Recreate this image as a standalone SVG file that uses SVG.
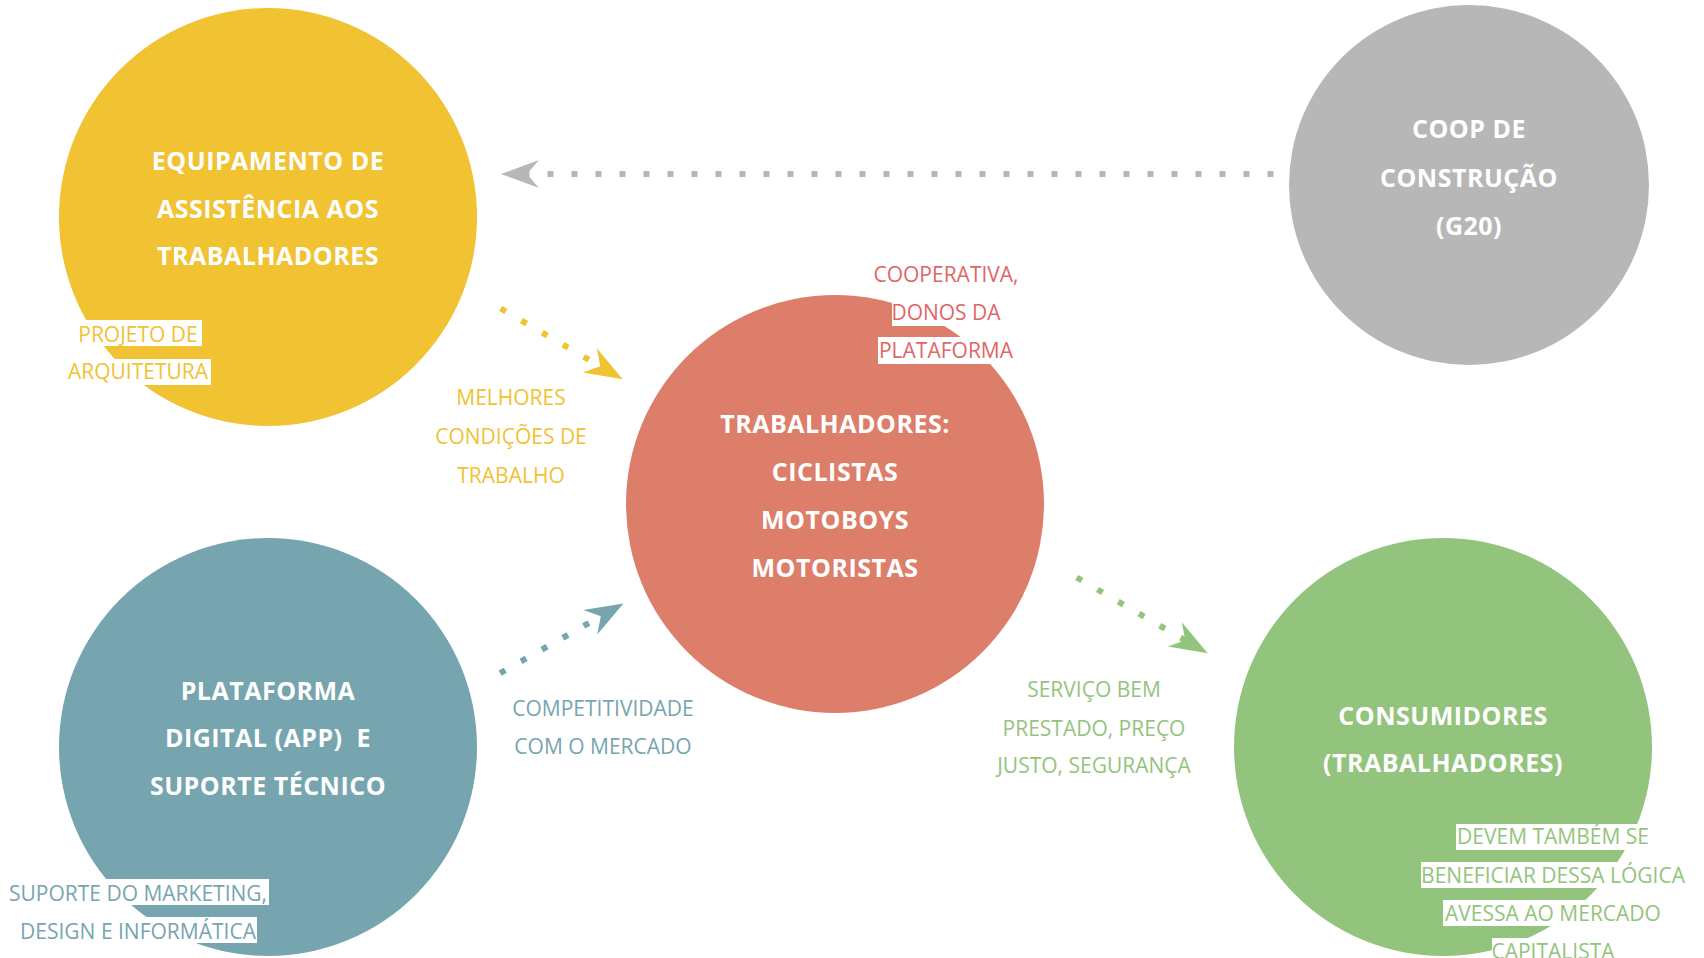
<svg xmlns="http://www.w3.org/2000/svg" width="1704" height="958" viewBox="0 0 1704 958">
<style>
.title{font-family:"Open Sans","Liberation Sans",sans-serif;font-weight:700;font-size:25px;letter-spacing:0.5px;fill:#ffffff;text-anchor:middle}
.lbl{font-family:"Open Sans","Liberation Sans",sans-serif;font-weight:400;font-size:21px;text-anchor:middle}
.bg{fill:#ffffff}
.dots{fill:none;stroke-width:6;stroke-dasharray:6 18;stroke-linecap:butt}
</style>
<defs>
<marker id="ah-gray" markerUnits="userSpaceOnUse" orient="auto" refX="0" refY="0" markerWidth="60" markerHeight="60" overflow="visible"><path d="M26,0 L-12,-14 L0,0 L-12,14 Z" fill="#B7B7B7"/></marker>
<marker id="ah-yellow" markerUnits="userSpaceOnUse" orient="auto" refX="0" refY="0" markerWidth="60" markerHeight="60" overflow="visible"><path d="M26,0 L-12,-14 L0,0 L-12,14 Z" fill="#F1C232"/></marker>
<marker id="ah-blue" markerUnits="userSpaceOnUse" orient="auto" refX="0" refY="0" markerWidth="60" markerHeight="60" overflow="visible"><path d="M26,0 L-12,-14 L0,0 L-12,14 Z" fill="#76A5AF"/></marker>
<marker id="ah-green" markerUnits="userSpaceOnUse" orient="auto" refX="0" refY="0" markerWidth="60" markerHeight="60" overflow="visible"><path d="M26,0 L-12,-14 L0,0 L-12,14 Z" fill="#93C47D"/></marker>
</defs>
<rect x="0" y="0" width="1704" height="958" fill="#ffffff"/>

<g id="node-equipamento">
<circle cx="268" cy="217" r="209" fill="#F1C232"/>
<text class="title" x="268" y="170">EQUIPAMENTO DE</text>
<text class="title" x="268" y="218">ASSISTÊNCIA AOS</text>
<text class="title" x="268" y="265">TRABALHADORES</text>
<rect class="bg" x="73" y="320" width="129" height="26"/>
<rect class="bg" x="66" y="359" width="145" height="26"/>
<text class="lbl" x="138" y="342" fill="#F1C232">PROJETO DE</text>
<text class="lbl" x="138" y="379" fill="#F1C232">ARQUITETURA</text>
</g>

<g id="node-coop">
<circle cx="1469" cy="185" r="180" fill="#B7B7B7"/>
<text class="title" x="1469" y="138">COOP DE</text>
<text class="title" x="1469" y="187">CONSTRUÇÃO</text>
<text class="title" x="1469" y="235">(G20)</text>
</g>

<g id="node-trabalhadores">
<circle cx="835" cy="504" r="209" fill="#DD7E6B"/>
<text class="title" x="835" y="433">TRABALHADORES:</text>
<text class="title" x="835" y="481">CICLISTAS</text>
<text class="title" x="835" y="529">MOTOBOYS</text>
<text class="title" x="835" y="577">MOTORISTAS</text>
<rect class="bg" x="871" y="261" width="149" height="27"/>
<rect class="bg" x="892" y="300" width="108" height="26"/>
<rect class="bg" x="878" y="337" width="136" height="27"/>
<text class="lbl" x="946" y="282" fill="#E06666">COOPERATIVA,</text>
<text class="lbl" x="946" y="320" fill="#E06666">DONOS DA</text>
<text class="lbl" x="946" y="358" fill="#E06666">PLATAFORMA</text>
</g>

<g id="node-plataforma">
<circle cx="268" cy="747" r="209" fill="#76A5AF"/>
<text class="title" x="268" y="700">PLATAFORMA</text>
<text class="title" x="268" y="747" xml:space="preserve">DIGITAL (APP)  E</text>
<text class="title" x="268" y="795">SUPORTE TÉCNICO</text>
<rect class="bg" x="6" y="879" width="263" height="26"/>
<rect class="bg" x="19" y="917" width="238" height="26"/>
<text class="lbl" x="138" y="901" fill="#76A5AF">SUPORTE DO MARKETING,</text>
<text class="lbl" x="138" y="939" fill="#76A5AF">DESIGN E INFORMÁTICA</text>
</g>

<g id="node-consumidores">
<circle cx="1443" cy="747" r="209" fill="#93C47D"/>
<text class="title" x="1443" y="725">CONSUMIDORES</text>
<text class="title" x="1443" y="772">(TRABALHADORES)</text>
<rect class="bg" x="1456" y="824" width="192" height="26"/>
<rect class="bg" x="1421" y="862" width="265" height="26"/>
<rect class="bg" x="1443" y="900" width="219" height="26"/>
<rect class="bg" x="1492" y="938" width="120" height="26"/>
<text class="lbl" x="1553" y="844" fill="#93C47D">DEVEM TAMBÉM SE</text>
<text class="lbl" x="1553" y="883" fill="#93C47D">BENEFICIAR DESSA LÓGICA</text>
<text class="lbl" x="1553" y="921" fill="#93C47D">AVESSA AO MERCADO</text>
<text class="lbl" x="1553" y="959" fill="#93C47D">CAPITALISTA</text>
</g>

<g id="connectors">
<path class="dots" d="M1273.5,174 L527,174" stroke="#B7B7B7" marker-end="url(#ah-gray)"/>
<path class="dots" d="M500.7,308.5 L600.2,366.3" stroke="#F1C232" marker-end="url(#ah-yellow)"/>
<path class="dots" d="M500.1,673.2 L600.8,616.3" stroke="#76A5AF" marker-end="url(#ah-blue)"/>
<path class="dots" d="M1076.7,577.5 L1185.2,640.3" stroke="#93C47D" marker-end="url(#ah-green)"/>
<text class="lbl" x="511" y="405" fill="#F1C232">MELHORES</text>
<text class="lbl" x="511" y="444" fill="#F1C232">CONDIÇÕES DE</text>
<text class="lbl" x="511" y="483" fill="#F1C232">TRABALHO</text>
<text class="lbl" x="603" y="716" fill="#76A5AF">COMPETITIVIDADE</text>
<text class="lbl" x="603" y="754" fill="#76A5AF">COM O MERCADO</text>
<text class="lbl" x="1094" y="697" fill="#93C47D">SERVIÇO BEM</text>
<text class="lbl" x="1094" y="736" fill="#93C47D">PRESTADO, PREÇO</text>
<text class="lbl" x="1094" y="773" fill="#93C47D">JUSTO, SEGURANÇA</text>
</g>
</svg>
